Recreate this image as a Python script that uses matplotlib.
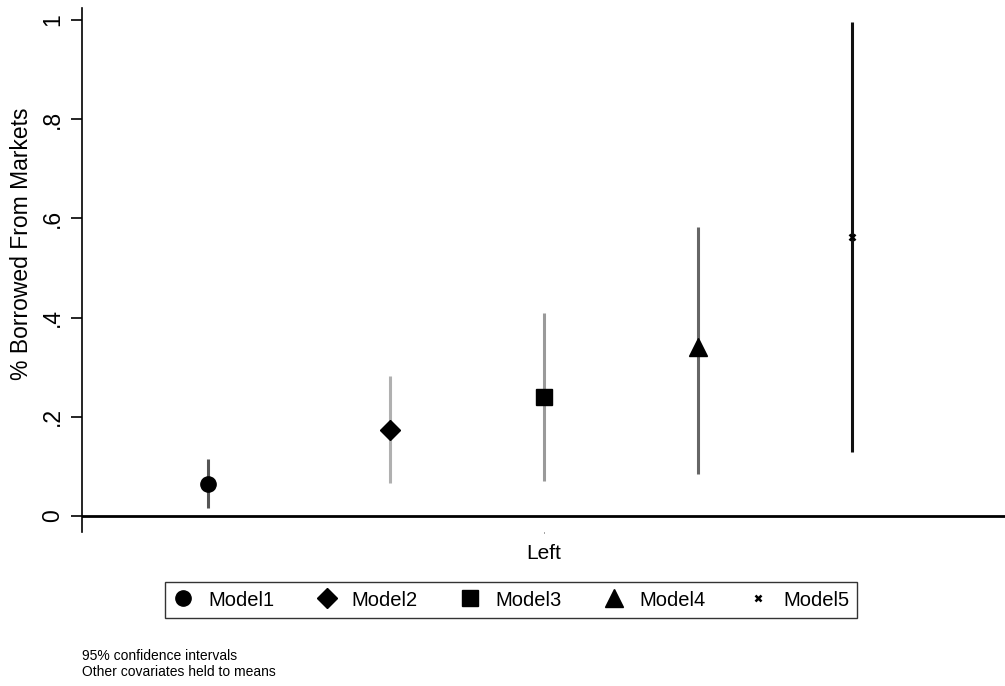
import matplotlib
matplotlib.use('Agg')
import matplotlib.pyplot as plt
from matplotlib.lines import Line2D

plt.rcParams['font.family'] = ['Liberation Sans', 'DejaVu Sans']

# data
models = ['Model1', 'Model2', 'Model3', 'Model4', 'Model5']
xpos = [-2.18, -1.0, 0.0, 1.0, 2.0]
est = [0.064, 0.173, 0.240, 0.340, 0.562]
lo = [0.016, 0.066, 0.070, 0.085, 0.129]
hi = [0.115, 0.282, 0.410, 0.583, 0.996]

markers = ['o', 'D', 's', '^', 'x']
msizes = [11, 10, 12, 13, 4]
ci_colors = ['#555555', '#b0b0b0', '#9a9a9a', '#666666', '#111111']

fig = plt.figure(figsize=(10.05, 6.86), dpi=100)
ax = fig.add_axes([82 / 1005, 1 - 532 / 686, (1005 - 82) / 1005, (532 - 8) / 686])

handles = []
for i in range(len(models)):
    ax.plot([xpos[i], xpos[i]], [lo[i], hi[i]], color=ci_colors[i], lw=2.2, solid_capstyle='butt', zorder=2)
    if markers[i] == 'x':
        ax.plot(xpos[i], est[i], marker='x', color='black', ms=msizes[i], mew=1.8, ls='none', zorder=3)
        h = Line2D([], [], marker='x', color='black', ms=msizes[i], mew=1.8, ls='none')
    else:
        ax.plot(xpos[i], est[i], marker=markers[i], color='black', ms=msizes[i], ls='none', zorder=3)
        h = Line2D([], [], marker=markers[i], color='black', ms=msizes[i], ls='none')
    handles.append(h)

ax.axhline(0, color='black', lw=2, zorder=1)

ax.set_xlim(-3.0, 2.99)
ax.set_ylim(-0.032, 1.024)
ax.set_yticks([0, 0.2, 0.4, 0.6, 0.8, 1.0])
ax.set_yticklabels(['0', '.2', '.4', '.6', '.8', '1'], rotation=90, va='center', fontsize=16.5)
ax.set_xticks([0.0])
ax.set_xticklabels([''])
ax.tick_params(axis='x', length=1, width=0.5)
ax.tick_params(axis='y', length=8, width=1.2, pad=5)
ax.set_xlabel('Left', fontsize=15, labelpad=4)
ax.set_ylabel('% Borrowed From Markets', fontsize=16.5)
ax.yaxis.set_label_coords(-0.053, 0.55)

for side in ['top', 'right', 'bottom']:
    ax.spines[side].set_visible(False)
ax.spines['left'].set_linewidth(1.2)

leg = fig.legend(handles, models, loc='center', bbox_to_anchor=(511 / 1005, 1 - 600 / 686), ncol=5,
                 fontsize=14.5, frameon=True, fancybox=False, edgecolor='black', handlelength=1.0,
                 handletextpad=0.75, columnspacing=2.1, borderpad=0.4)
leg.get_frame().set_linewidth(1.0)

fig.text(82 / 1005, 1 - 656 / 686, '95% confidence intervals', fontsize=10, va='center')
fig.text(82 / 1005, 1 - 672 / 686, 'Other covariates held to means', fontsize=10, va='center')

fig.savefig('out.png', dpi=100)
